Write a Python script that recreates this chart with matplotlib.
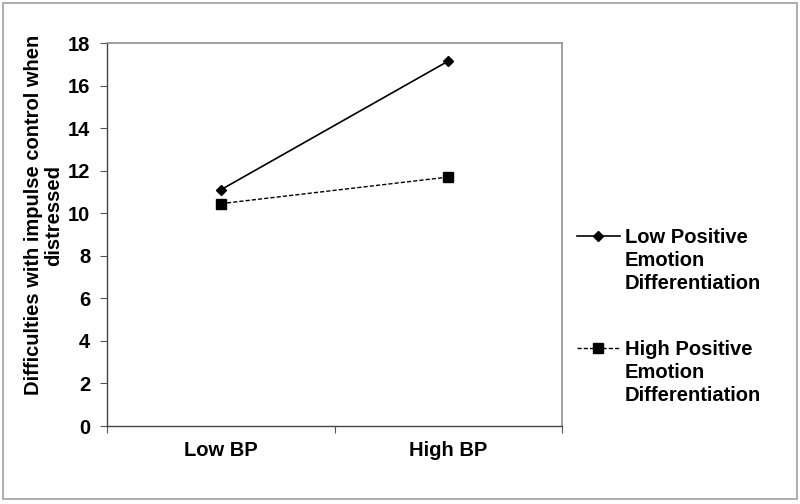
import matplotlib
matplotlib.use("Agg")
import matplotlib.pyplot as plt
from matplotlib.patches import Rectangle
from matplotlib.lines import Line2D

categories = ["Low BP", "High BP"]
low_ped = [11.1, 17.15]
high_ped = [10.45, 11.7]
series_labels = ["Low Positive\nEmotion\nDifferentiation", "High Positive\nEmotion\nDifferentiation"]
yticks = [0, 2, 4, 6, 8, 10, 12, 14, 16, 18]
ylabel = "Difficulties with impulse control when\ndistressed"

plt.rcParams['font.family'] = ['Liberation Sans', 'DejaVu Sans']
plt.rcParams['font.weight'] = 'bold'
FS = 14.5
W, H = 800, 504

fig = plt.figure(figsize=(8, 5.04), dpi=100)
fig.patches.append(Rectangle((3/W, 5/H), 794/W, 496/H, transform=fig.transFigure,
                             fill=False, edgecolor='#a0a0a0', linewidth=1.2))
ax = fig.add_axes([107/W, 1-426/H, (562-107)/W, (426-43)/H])

x = list(range(len(categories)))
styles = [dict(linestyle='-', linewidth=1.2, marker='D', markersize=5.5),
          dict(linestyle=(0, (3, 1.5)), linewidth=1.0, marker='s', markersize=7)]
for vals, st in zip([low_ped, high_ped], styles):
    ax.plot(x, vals, color='black', **st)

ax.set_xlim(-0.5, 1.5)
ax.set_ylim(0, 18)
ax.set_yticks(yticks)
ax.set_yticklabels([str(v) for v in yticks], fontsize=FS, fontweight='bold')
ax.set_xticks([-0.5, 0.5, 1.5])
ax.set_xticklabels([])
ax.set_xticks(x, minor=True)
ax.set_xticklabels(categories, minor=True, fontsize=FS, fontweight='bold')
ax.tick_params(axis='x', which='minor', length=0, pad=11)
ax.tick_params(axis='x', which='major', length=5, color='#555555', width=0.8)
ax.tick_params(axis='y', length=5, color='#555555', width=0.8, pad=7)

for s in ['left', 'bottom']:
    ax.spines[s].set_color('#444444')
    ax.spines[s].set_linewidth(1.0)
for s in ['top', 'right']:
    ax.spines[s].set_color('#909090')
    ax.spines[s].set_linewidth(1.2)

fig.text(44/W, 1-215/H, ylabel, rotation=90, ha='center', va='center', fontsize=FS,
         fontweight='bold', linespacing=1.08, multialignment='center')

# legend drawn manually so that the handle sits on the first text line
leg_y = [236, 348]
for y, st, lab in zip(leg_y, styles, series_labels):
    yf = 1 - y/H
    fig.add_artist(Line2D([577/W, 620/W], [yf, yf], transform=fig.transFigure, color='black',
                          linestyle=st['linestyle'], linewidth=st['linewidth']))
    fig.add_artist(Line2D([598/W], [yf], transform=fig.transFigure, color='black',
                          marker=st['marker'], markersize=st['markersize'], linestyle='none'))
    fig.text(625/W, 1-(y-8)/H, lab, ha='left', va='top', fontsize=FS, fontweight='bold',
             linespacing=1.28)

fig.savefig("out.png", dpi=100)
